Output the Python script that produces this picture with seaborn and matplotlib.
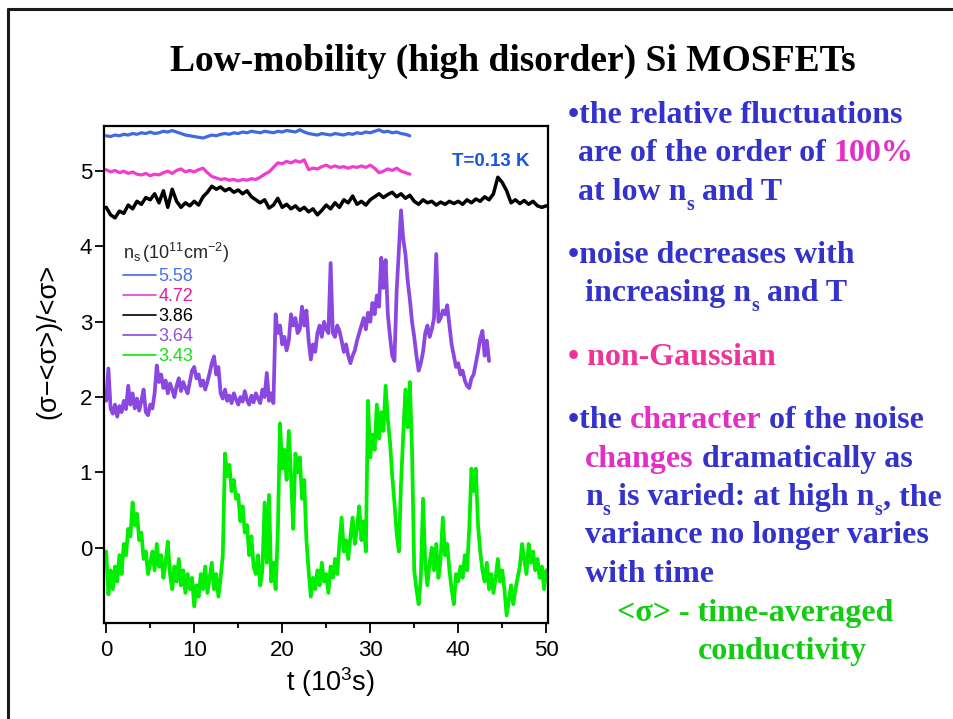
import numpy as np
import pandas as pd
import matplotlib
matplotlib.use("Agg")
import matplotlib.pyplot as plt
import seaborn as sns
from matplotlib.lines import Line2D

# ---------------- data ----------------
series_labels = ["5.58", "4.72", "3.86", "3.64", "3.43"]
line_colors = ["#4169e1", "#f03ccf", "#000000", "#8a48e0", "#00ee00"]
legend_text_colors = ["#4a70e6", "#e8199f", "#000000", "#9152d6", "#19dd19"]

t_blue = np.arange(0, 34.51, 0.5)
y_blue = [5.47, 5.46, 5.48, 5.47, 5.49,
          5.48, 5.50, 5.49, 5.51, 5.50,
          5.52, 5.50, 5.51, 5.53, 5.52,
          5.54, 5.52, 5.50, 5.48, 5.47,
          5.46, 5.45, 5.44, 5.46, 5.48,
          5.47, 5.49, 5.50, 5.49, 5.51,
          5.50, 5.52, 5.51, 5.53, 5.52,
          5.51, 5.53, 5.52, 5.51, 5.53,
          5.52, 5.54, 5.53, 5.52, 5.55,
          5.52, 5.50, 5.49, 5.48, 5.50,
          5.49, 5.48, 5.50, 5.49, 5.48,
          5.50, 5.49, 5.51, 5.50, 5.52,
          5.51, 5.53, 5.55, 5.52, 5.53,
          5.51, 5.52, 5.50, 5.49, 5.47]

t_pink = np.arange(0, 34.51, 0.5)
y_pink = [5.02, 4.99, 5.01, 4.98, 5.00,
          4.97, 4.99, 4.96, 4.95, 4.97,
          4.94, 4.96, 4.95, 4.98, 5.00,
          4.97, 5.01, 5.03, 4.99, 5.01,
          4.99, 5.02, 5.04, 4.98, 4.93,
          4.91, 4.89, 4.90, 4.88, 4.89,
          4.87, 4.89, 4.88, 4.90, 4.89,
          4.92, 4.96, 4.99, 5.05, 5.11,
          5.10, 5.13, 5.11, 5.14, 5.12,
          5.15, 5.02, 5.04, 5.03, 5.06,
          5.08, 5.05, 5.07, 5.05, 5.06,
          5.04, 5.06, 5.05, 5.07, 5.05,
          5.08, 5.04, 4.98, 5.00, 5.03,
          5.01, 5.04, 5.00, 4.98, 4.96]

t_black = np.arange(0, 50.01, 0.5)
y_black = [4.52, 4.42, 4.38, 4.47, 4.44,
           4.55, 4.50, 4.60, 4.56, 4.65,
           4.62, 4.70, 4.58, 4.74, 4.52,
           4.76, 4.60, 4.52, 4.58, 4.54,
           4.60, 4.55, 4.66, 4.72, 4.80,
           4.76, 4.79, 4.74, 4.77, 4.72,
           4.75, 4.70, 4.74, 4.66, 4.62,
           4.58, 4.62, 4.51, 4.55, 4.64,
           4.52, 4.56, 4.50, 4.54, 4.48,
           4.52, 4.46, 4.50, 4.42, 4.48,
           4.55, 4.50, 4.58, 4.52, 4.62,
           4.58, 4.67, 4.56, 4.60, 4.55,
           4.62, 4.66, 4.70, 4.65, 4.69,
           4.72, 4.66, 4.70, 4.64, 4.68,
           4.60, 4.56, 4.62, 4.58, 4.60,
           4.55, 4.59, 4.56, 4.60, 4.57,
           4.60, 4.56, 4.62, 4.58, 4.63,
           4.60, 4.66, 4.62, 4.70, 4.92,
           4.85, 4.74, 4.58, 4.62, 4.57,
           4.61, 4.56, 4.60, 4.54, 4.52,
           4.54]

t_purple = np.arange(0, 43.51, 0.25)
y_purple = [1.95, 2.38, 1.85, 1.78, 1.90, 1.74, 1.88, 1.80,
            1.95, 1.84, 2.15, 1.90, 2.05, 1.85, 1.98, 1.82,
            1.95, 2.10, 1.80, 1.76, 1.90, 1.85, 2.05, 2.42,
            2.20, 2.30, 2.12, 2.22, 2.05, 2.18, 2.10, 2.00,
            2.15, 2.25, 2.08, 2.20, 2.12, 2.05, 2.20, 2.35,
            2.40, 2.25, 2.30, 2.15, 2.22, 2.10, 2.20, 2.32,
            2.45, 2.54, 2.30, 2.40, 2.05, 1.98, 2.10, 1.95,
            2.02, 1.92, 2.05, 1.97, 1.90, 2.00, 1.94, 2.08,
            1.96, 1.90, 2.02, 1.93, 2.05, 1.98, 1.92, 2.10,
            2.00, 2.32, 1.95, 2.05, 1.92, 3.10, 2.85, 2.95,
            2.70, 2.80, 2.62, 2.75, 3.10, 2.95, 3.05, 2.85,
            2.90, 3.20, 2.95, 3.15, 2.75, 2.50, 2.70, 2.60,
            2.85, 2.95, 2.80, 3.00, 2.90, 2.85, 3.78, 2.85,
            2.80, 2.95, 2.88, 2.75, 2.60, 2.70, 2.55, 2.45,
            2.55, 2.62, 2.75, 2.85, 2.95, 3.05, 2.90, 3.12,
            3.00, 3.25, 3.10, 3.35, 3.20, 3.85, 3.45, 3.82,
            3.10, 2.80, 2.55, 2.48, 3.40, 3.95, 4.48, 4.10,
            3.90, 3.55, 3.30, 3.00, 2.80, 2.55, 2.35, 2.45,
            2.60, 2.85, 2.95, 2.80, 2.90, 3.05, 3.90, 3.00,
            3.05, 3.15, 3.10, 3.22, 2.95, 2.70, 2.55, 2.40,
            2.45, 2.30, 2.35, 2.22, 2.15, 2.12, 2.25, 2.30,
            2.45, 2.60, 2.78, 2.88, 2.55, 2.75, 2.48]

t_green = np.arange(0, 50.01, 0.25)
y_green = [-0.05, -0.62, -0.30, -0.55, -0.25, -0.45, -0.10, -0.35,
           0.05, -0.10, 0.25, 0.15, 0.60, 0.30, 0.45, 0.10,
           0.20, -0.15, -0.05, -0.35, -0.20, -0.05, -0.30, 0.05,
           -0.25, -0.10, -0.40, -0.20, 0.08, -0.35, -0.55, -0.25,
           -0.45, -0.15, -0.50, -0.30, -0.60, -0.35, -0.55, -0.40,
           -0.78, -0.50, -0.65, -0.35, -0.55, -0.25, -0.60, -0.40,
           -0.20, -0.55, -0.35, -0.65, -0.40, -0.10, 1.25, 0.95,
           1.10, 0.75, 0.90, 0.65, 0.70, 0.35, 0.55, 0.20,
           0.30, -0.10, 0.15, -0.25, -0.35, -0.10, -0.50, -0.30,
           0.60, -0.20, 0.70, -0.45, -0.20, -0.55, 0.20, 1.65,
           1.05, 1.30, 0.90, 1.55, 0.95, 0.25, 1.25, 1.00,
           1.20, 0.65, 0.90, 0.10, -0.30, -0.65, -0.40, -0.55,
           -0.30, -0.50, -0.20, -0.45, -0.35, -0.60, -0.25, -0.40,
           -0.15, -0.35, 0.05, 0.40, -0.05, 0.10, -0.15, 0.15,
           0.40, 0.05, 0.25, 0.55, 0.10, 0.35, -0.05, 1.95,
           1.20, 1.50, 1.30, 1.90, 1.45, 1.80, 1.55, 2.15,
           1.70, 1.40, 0.95, 0.60, 0.20, -0.05, 0.85, 1.50,
           2.10, 1.60, 2.20, 1.30, -0.30, -0.55, -0.75, -0.40,
           0.65, -0.20, -0.50, -0.20, 0.00, -0.30, 0.05, -0.40,
           -0.15, 0.40, -0.10, 0.05, -0.30, -0.55, -0.75, -0.35,
           -0.45, -0.25, -0.40, -0.10, -0.30, 0.25, 1.05, 0.75,
           1.05, 0.30, -0.05, -0.30, -0.45, -0.20, -0.55, -0.35,
           -0.60, -0.40, -0.15, -0.45, -0.30, -0.55, -0.90, -0.70,
           -0.50, -0.75, -0.55, -0.40, -0.25, 0.05, -0.15, -0.35,
           0.05, -0.20, -0.05, -0.30, -0.15, -0.40, -0.25, -0.55,
           -0.30]

x_ticks = [0, 10, 20, 30, 40, 50]
x_minor_ticks = [5, 15, 25, 35, 45]
y_ticks = [0, 1, 2, 3, 4, 5]

# ---------------- figure ----------------
sns.set_theme(style="white")
plt.rcParams["font.family"] = ["Liberation Sans", "DejaVu Sans"]
plt.rcParams["mathtext.fontset"] = "custom"
plt.rcParams["mathtext.rm"] = "Liberation Sans"
plt.rcParams["mathtext.it"] = "Liberation Sans:italic"
plt.rcParams["mathtext.bf"] = "Liberation Sans:bold"

W, H = 954, 719
fig = plt.figure(figsize=(W / 100, H / 100), dpi=100)
fig.patch.set_facecolor("white")

ax = fig.add_axes([104 / W, 1 - 623 / H, 444 / W, 497 / H])

frames = []
for lab, tt, yy in zip(series_labels,
                       [t_blue, t_pink, t_black, t_purple, t_green],
                       [y_blue, y_pink, y_black, y_purple, y_green]):
    frames.append(pd.DataFrame({"t": tt, "v": yy, "ns": lab}))
df = pd.concat(frames, ignore_index=True)

sns.lineplot(data=df, x="t", y="v", hue="ns", hue_order=series_labels,
             palette=dict(zip(series_labels, line_colors)),
             estimator=None, sort=False, linewidth=2.0, legend=False, ax=ax)
for ln, lw in zip(ax.lines, [2.3, 2.3, 2.5, 2.7, 2.7]):
    ln.set_linewidth(lw)
    ln.set_solid_joinstyle("round")

ax.set_xlim(-0.25, 50.2)
ax.set_ylim(-1.0, 5.6)
ax.set_xticks(x_ticks)
ax.set_xticks(x_minor_ticks, minor=True)
ax.set_yticks(y_ticks)
for sp in ax.spines.values():
    sp.set_visible(True)
    sp.set_color("black")
    sp.set_linewidth(1.6)
ax.tick_params(axis="x", which="major", direction="out", length=7, width=1.3,
               labelsize=16, pad=5, bottom=True, colors="black")
ax.tick_params(axis="x", which="minor", direction="out", length=3.5, width=1.3,
               bottom=True, colors="black")
ax.tick_params(axis="y", which="major", direction="out", length=6.5, width=1.3,
               labelsize=16, pad=2, left=True, colors="black")
ax.set_xlabel(r"t (10$^\mathregular{3}$s)", fontsize=19.5, color="black")
ax.set_ylabel("(σ−<σ>)/<σ>", fontsize=19.5, color="black")
ax.xaxis.set_label_coords(0.511, -0.085)
ax.yaxis.set_label_coords(-0.096, 0.567)
ax.grid(False)

handles = [Line2D([], [], color=c, lw=1.2) for c in line_colors]
leg = ax.legend(handles, series_labels,
                title=r"n$_\mathregular{s}$$\mathregular{\,(10^{11}cm^{-2})}$",
                loc="upper left", bbox_to_anchor=(0.043, 0.768), frameon=False,
                fontsize=13, title_fontsize=13, handlelength=1.85,
                handletextpad=0.1, labelspacing=0.16, borderaxespad=0,
                borderpad=0, alignment="left", labelcolor=legend_text_colors)

t_lab = ax.text(0, 0, "T=0.13 K", fontsize=13.5, weight="bold",
                color="#1a55dd", ha="center", va="center")
t_lab.set_transform(fig.transFigure)
t_lab.set_position((491 / W, 1 - 162 / H))

# ---------------- slide frame ----------------
fig.add_artist(Line2D([8 / W, 1.0], [1 - 9 / H, 1 - 9 / H], color="#1a1a1a",
                      lw=2.2, transform=fig.transFigure))
fig.add_artist(Line2D([8 / W, 8 / W], [0.0, 1 - 9 / H], color="#1a1a1a",
                      lw=2.2, transform=fig.transFigure))

# ---------------- slide texts ----------------
renderer = fig.canvas.get_renderer()
SERIF = ["Liberation Serif", "DejaVu Serif"]


def text_w(s, size):
    t = fig.text(0, 0, s + "|", fontsize=size, family=SERIF, weight="bold")
    w1 = t.get_window_extent(renderer).width
    t.set_text("|")
    w2 = t.get_window_extent(renderer).width
    t.remove()
    return w1 - w2


def put(px, py, s, size, color):
    fig.text(px / W, 1 - py / H, s, fontsize=size, family=SERIF,
             weight="bold", color=color, ha="left", va="baseline")


def draw_line(px, py, pieces, size):
    x = px
    for s, color, kind in pieces:
        if kind == "sub":
            fs = size * 0.62
            put(x, py + size * 0.30 * 100 / 72, s, fs, color)
            x += text_w(s, fs)
        else:
            put(x, py, s, size, color)
            x += text_w(s, size)


title = "Low-mobility (high disorder) Si MOSFETs"
tsize = 27 * 685 / text_w(title, 27)
put(170, 71, title, tsize, "black")

B = "#3333cc"
M = "#e22fc6"
P = "#ee3399"
G = "#11cc11"
bsize = 20 * 335 / text_w("•the relative fluctuations", 20)

lines = [
    (568, 123, [("•the relative fluctuations", B, "n")]),
    (578, 161, [("are of the order of ", B, "n"), ("100%", M, "n")]),
    (578, 200, [("at low n", B, "n"), ("s", B, "sub"), (" and T", B, "n")]),
    (568, 263, [("•noise decreases with", B, "n")]),
    (585, 301, [("increasing n", B, "n"), ("s", B, "sub"), (" and T", B, "n")]),
    (568, 365, [("• non-Gaussian", P, "n")]),
    (568, 428, [("•the ", B, "n"), ("character", M, "n"), (" of the noise", B, "n")]),
    (585, 467, [("changes", M, "n"), (" dramatically as", B, "n")]),
    (585, 505, [("n", B, "n"), ("s", B, "sub"), (" is varied: at high n", B, "n"),
                ("s", B, "sub"), (", the", B, "n")]),
    (585, 543, [("variance no longer varies", B, "n")]),
    (585, 582, [("with time", B, "n")]),
    (617, 621, [("<σ> - time-averaged", G, "n")]),
    (698, 659, [("conductivity", G, "n")]),
]
for px, py, pieces in lines:
    draw_line(px, py, pieces, bsize)

fig.savefig("out.png", dpi=100, facecolor="white")
